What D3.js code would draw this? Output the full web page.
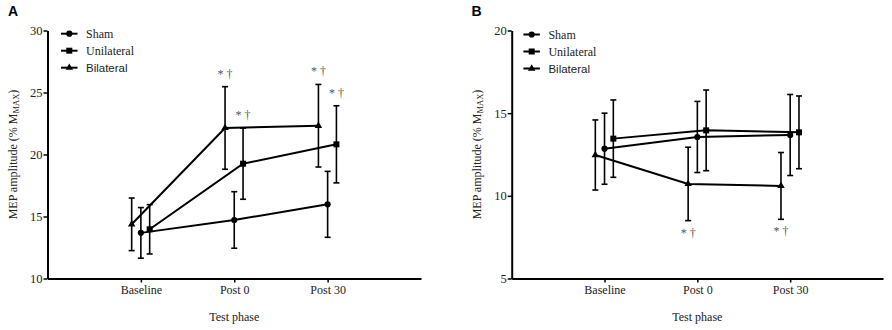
<!DOCTYPE html>
<html>
<head>
<meta charset="utf-8">
<script src="https://cdn.jsdelivr.net/npm/d3@7"></script>
<style>
  body { margin: 0; background: #fff; }
  svg { display: block; }
</style>
</head>
<body>
<svg id="chart" width="892" height="330"></svg>
<script>
// categories
const phases = ["Baseline", "Post 0", "Post 30"];
const groups = ["Sham", "Unilateral", "Bilateral"];

// panel A means and error (SD)
const shamA = [13.68, 14.72, 15.98];
const shamErrA = [2.04, 2.28, 2.66];
const uniA = [13.97, 19.26, 20.82];
const uniErrA = [1.99, 2.87, 3.11];
const bilA = [14.37, 22.14, 22.32];
const bilErrA = [2.12, 3.33, 3.33];

// panel B means and error (SD)
const shamB = [12.85, 13.56, 13.68];
const shamErrB = [2.15, 2.15, 2.45];
const uniB = [13.46, 13.96, 13.84];
const uniErrB = [2.34, 2.44, 2.2];
const bilB = [12.47, 10.72, 10.6];
const bilErrB = [2.12, 2.22, 2.02];

// significance marks (group, phase)
const sigA = [["Bilateral", "Post 0"], ["Unilateral", "Post 0"], ["Bilateral", "Post 30"], ["Unilateral", "Post 30"]];
const sigB = [["Bilateral", "Post 0"], ["Bilateral", "Post 30"]];

const yTicksA = [10, 15, 20, 25, 30];
const yTicksB = [5, 10, 15, 20];

const SERIF = "'Liberation Serif', 'DejaVu Serif', Times, serif";
const SANS = "'Liberation Sans', Arial, sans-serif";

const svg = d3.select("#chart");

// small horizontal dodge so the bars don't overlap
const dodge = { Sham: 0, Unilateral: 8.8, Bilateral: -9.2 };

function drawPanel(opts) {
  const g = svg.append("g");

  const x = d3.scaleLinear().domain([0, 4]).range([opts.left, opts.right]);
  const y = d3.scaleLinear().domain(opts.yDomain).range([278.5, 30.5]);

  const series = [
    { name: "Sham", values: opts.sham, err: opts.shamErr },
    { name: "Unilateral", values: opts.uni, err: opts.uniErr },
    { name: "Bilateral", values: opts.bil, err: opts.bilErr }
  ];
  series.forEach(s => {
    s.points = s.values.map((v, i) => ({
      x: x(i + 1) + dodge[s.name],
      mean: v,
      err: s.err[i],
      phase: phases[i]
    }));
  });

  // y axis
  const yAxis = g.append("g")
    .attr("transform", `translate(${opts.left},0)`)
    .call(d3.axisLeft(y).tickValues(opts.yTicks).tickSize(4).tickSizeOuter(0).tickPadding(1));
  yAxis.attr("font-family", SERIF);
  yAxis.select(".domain").attr("stroke-width", 2);
  yAxis.selectAll(".tick line").attr("stroke-width", 1.5);
  yAxis.selectAll("text").style("font-family", SERIF).style("font-size", "12.5px").attr("fill", "#222");

  // x axis
  const xAxis = g.append("g")
    .attr("transform", `translate(0,278.5)`)
    .call(d3.axisBottom(x).tickValues([1, 2, 3]).tickFormat(d => phases[d - 1])
      .tickSize(4).tickSizeOuter(0).tickPadding(3));
  xAxis.attr("font-family", SERIF);
  xAxis.select(".domain").attr("stroke-width", 2);
  xAxis.selectAll(".tick line").attr("stroke-width", 1.5);
  xAxis.selectAll("text").style("font-family", SERIF).style("font-size", "12px").attr("fill", "#222");

  // axis titles
  g.append("text")
    .attr("x", (opts.left + opts.right) / 2)
    .attr("y", 321)
    .attr("text-anchor", "middle")
    .style("font-family", SERIF)
    .style("font-size", "12px")
    .attr("fill", "#222")
    .text("Test phase");

  const yl = g.append("text")
    .attr("transform", `translate(${opts.left - 31},${(278.5 + 30.5) / 2}) rotate(-90)`)
    .attr("text-anchor", "middle")
    .style("font-family", SERIF)
    .style("font-size", "12px")
    .attr("fill", "#222");
  yl.append("tspan").text("MEP amplitude (% M");
  yl.append("tspan").attr("dy", 2.5).style("font-size", "8.5px").text("MAX");
  yl.append("tspan").attr("dy", -2.5).text(")");

  // panel letter
  g.append("text")
    .attr("x", opts.letterX)
    .attr("y", 16)
    .style("font-family", SANS)
    .style("font-weight", "bold")
    .style("font-size", "14px")
    .text(opts.letter);

  // lines
  const line = d3.line().x(d => d.x).y(d => y(d.mean));
  g.selectAll(".series-line")
    .data(series)
    .enter().append("path")
    .attr("fill", "none")
    .attr("stroke", "#000")
    .attr("stroke-width", 2)
    .attr("d", d => line(d.points));

  // error bars
  series.forEach(s => {
    const eb = g.append("g").selectAll("g").data(s.points).enter().append("g");
    eb.append("line")
      .attr("x1", d => d.x).attr("x2", d => d.x)
      .attr("y1", d => y(d.mean + d.err)).attr("y2", d => y(d.mean - d.err))
      .attr("stroke", "#000").attr("stroke-width", 1.6);
    eb.append("line")
      .attr("x1", d => d.x - 3).attr("x2", d => d.x + 3)
      .attr("y1", d => y(d.mean + d.err)).attr("y2", d => y(d.mean + d.err))
      .attr("stroke", "#000").attr("stroke-width", 1.6);
    eb.append("line")
      .attr("x1", d => d.x - 3).attr("x2", d => d.x + 3)
      .attr("y1", d => y(d.mean - d.err)).attr("y2", d => y(d.mean - d.err))
      .attr("stroke", "#000").attr("stroke-width", 1.6);
  });

  // markers
  const symbolFor = { Sham: d3.symbolCircle, Unilateral: d3.symbolSquare, Bilateral: d3.symbolTriangle };
  const sizeFor = { Sham: 30, Unilateral: 36, Bilateral: 24 };
  series.forEach(s => {
    g.append("g").selectAll("path").data(s.points).enter().append("path")
      .attr("transform", d => `translate(${d.x},${y(d.mean)})`)
      .attr("d", d3.symbol().type(symbolFor[s.name]).size(sizeFor[s.name]))
      .attr("fill", "#000");
  });

  // significance marks
  opts.sig.forEach(([grp, ph]) => {
    const s = series.find(d => d.name === grp);
    const p = s.points[phases.indexOf(ph)];
    const yy = opts.sigBelow ? y(p.mean - p.err) + 16 : y(p.mean + p.err) - 9;
    g.append("text")
      .attr("x", p.x)
      .attr("y", yy)
      .attr("text-anchor", "middle")
      .style("font-family", SERIF)
      .style("font-size", "12px")
      .attr("fill", "#555")
      .text("* †");
  });

  // legend
  const legend = g.append("g")
    .attr("transform", `translate(${opts.left + opts.legendDx},0)`);
  groups.forEach((name, i) => {
    const ly = opts.legendY + i * 17;
    const row = legend.append("g").attr("transform", `translate(0,${ly})`);
    row.append("line")
      .attr("x1", 0).attr("x2", 16.5)
      .attr("stroke", "#000").attr("stroke-width", 2);
    row.append("path")
      .attr("transform", "translate(8.3,0)")
      .attr("d", d3.symbol().type(symbolFor[name]).size(sizeFor[name]))
      .attr("fill", "#000");
    row.append("text")
      .attr("x", 25)
      .attr("dy", "0.35em")
      .style("font-family", name === "Bilateral" ? SANS : SERIF)
      .style("font-size", name === "Bilateral" ? "11.5px" : "12px")
      .attr("fill", "#222")
      .text(name);
  });
}

drawPanel({
  letter: "A", letterX: 8,
  left: 47.5, right: 421,
  yDomain: [10, 30], yTicks: yTicksA,
  sham: shamA, shamErr: shamErrA,
  uni: uniA, uniErr: uniErrA,
  bil: bilA, bilErr: bilErrA,
  sig: sigA, sigBelow: false,
  legendDx: 13.5, legendY: 33.7
});

drawPanel({
  letter: "B", letterX: 471.5,
  left: 511.7, right: 883,
  yDomain: [5, 20], yTicks: yTicksB,
  sham: shamB, shamErr: shamErrB,
  uni: uniB, uniErr: uniErrB,
  bil: bilB, bilErr: bilErrB,
  sig: sigB, sigBelow: true,
  legendDx: 11.7, legendY: 34.5
});
</script>
</body>
</html>
